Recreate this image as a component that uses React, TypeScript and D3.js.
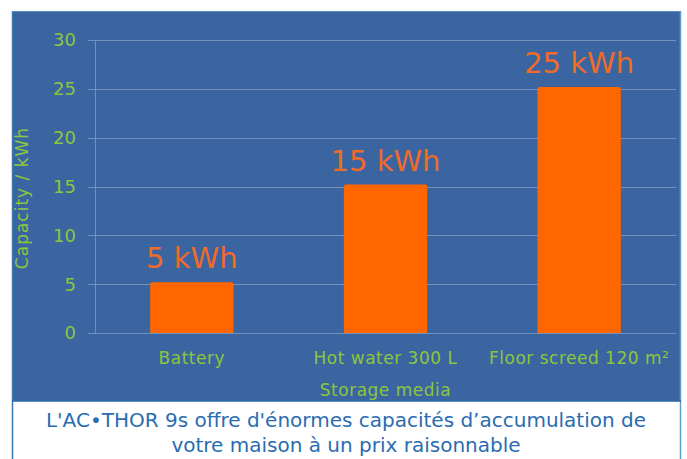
import { useEffect, useRef } from 'react'
import * as d3 from 'd3'

const categories = ['Battery', 'Hot water 300 L', 'Floor screed 120 m²']
const capacities = [5.2, 15.2, 25.2]
const barLabels = ['5 kWh', '15 kWh', '25 kWh']
const yTicks = [0, 5, 10, 15, 20, 25, 30]
const captionLines = [
  "L'AC•THOR 9s offre d'énormes capacités d’accumulation de",
  'votre maison à un prix raisonnable',
]

const W = 687
const H = 459
const margin = { top: 40, right: 11, bottom: 126, left: 95 }
const FONT = '"DejaVu Sans", sans-serif'
const GREEN = '#8cc63e'

const App = () => {
  const ref = useRef<SVGSVGElement>(null)

  useEffect(() => {
    if (!ref.current) return
    const svg = d3.select(ref.current)
    svg.selectAll('*').remove()

    const innerW = W - margin.left - margin.right
    const innerH = H - margin.top - margin.bottom

    // background panel + caption box
    svg.append('rect').attr('width', W).attr('height', H).attr('fill', '#fff')
    svg.append('rect')
      .attr('x', 12).attr('y', 11).attr('width', 669).attr('height', 390)
      .attr('fill', '#3b65a1')
    svg.append('line')
      .attr('x1', 12.5).attr('x2', 12.5).attr('y1', 11).attr('y2', H)
      .attr('stroke', '#3a78b8').attr('stroke-width', 1.5)
    svg.append('line')
      .attr('x1', 680.5).attr('x2', 680.5).attr('y1', 11).attr('y2', H)
      .attr('stroke', '#5b9fd3').attr('stroke-width', 1.5)
    svg.append('line')
      .attr('x1', 12).attr('x2', 681).attr('y1', 11.5).attr('y2', 11.5)
      .attr('stroke', '#5a8cc6').attr('stroke-width', 1)
    svg.append('line')
      .attr('x1', 12).attr('x2', 681).attr('y1', 401).attr('y2', 401)
      .attr('stroke', '#2f66a8').attr('stroke-width', 1.5)

    const x = d3.scaleBand<string>()
      .domain(categories)
      .range([0, innerW])
      .paddingInner(0.57)
      .paddingOuter(0.285)

    const y = d3.scaleLinear().domain([0, 30]).range([innerH, 0])

    const g = svg.append('g').attr('transform', `translate(${margin.left},${margin.top})`)

    // gridlines
    g.append('g')
      .selectAll('line')
      .data(yTicks)
      .join('line')
        .attr('x1', -7)
        .attr('x2', innerW)
        .attr('y1', d => Math.round(y(d)) + 0.5)
        .attr('y2', d => Math.round(y(d)) + 0.5)
        .attr('stroke', '#7391bd')
        .attr('stroke-width', 1)

    // y axis line
    g.append('line')
      .attr('x1', 0.5).attr('x2', 0.5).attr('y1', 0).attr('y2', innerH)
      .attr('stroke', '#7391bd')

    // y tick labels
    g.append('g')
      .selectAll('text')
      .data(yTicks)
      .join('text')
        .attr('x', -19)
        .attr('y', d => y(d))
        .attr('dy', '0.36em')
        .attr('text-anchor', 'end')
        .attr('font-family', FONT)
        .attr('font-size', 18)
        .attr('fill', GREEN)
        .text(d => d)

    // bars
    g.append('g')
      .selectAll('path')
      .data(capacities)
      .join('path')
        .attr('fill', '#ff6600')
        .attr('d', (d, i) => {
          const x0 = x(categories[i])!
          const w = x.bandwidth()
          const top = y(d)
          const r = 2
          return `M${x0},${innerH}V${top + r}Q${x0},${top} ${x0 + r},${top}H${x0 + w - r}Q${x0 + w},${top} ${x0 + w},${top + r}V${innerH}Z`
        })

    // bar value labels
    g.append('g')
      .selectAll('text')
      .data(capacities)
      .join('text')
        .attr('x', (_, i) => x(categories[i])! + x.bandwidth() / 2)
        .attr('y', d => y(d) - 14)
        .attr('text-anchor', 'middle')
        .attr('font-family', FONT)
        .attr('font-size', 29)
        .attr('fill', '#f06a28')
        .text((_, i) => barLabels[i])

    // x tick labels
    g.append('g')
      .selectAll('text')
      .data(categories)
      .join('text')
        .attr('x', d => x(d)! + x.bandwidth() / 2)
        .attr('y', innerH + 31)
        .attr('text-anchor', 'middle')
        .attr('font-family', FONT)
        .attr('font-size', 17)
        .attr('letter-spacing', 0.5)
        .attr('fill', GREEN)
        .text(d => d)

    // axis titles
    g.append('text')
      .attr('x', innerW / 2)
      .attr('y', innerH + 63)
      .attr('text-anchor', 'middle')
      .attr('font-family', FONT)
      .attr('font-size', 17)
      .attr('letter-spacing', 0.5)
      .attr('fill', GREEN)
      .text('Storage media')

    svg.append('text')
      .attr('transform', `translate(28,${198}) rotate(-90)`)
      .attr('text-anchor', 'middle')
      .attr('font-family', FONT)
      .attr('font-size', 17)
      .attr('letter-spacing', 1)
      .attr('fill', GREEN)
      .text('Capacity / kWh')

    // caption
    svg.append('g')
      .selectAll('text')
      .data(captionLines)
      .join('text')
        .attr('x', 346)
        .attr('y', (_, i) => 427 + i * 25)
        .attr('text-anchor', 'middle')
        .attr('font-family', FONT)
        .attr('font-size', 20)
        .attr('fill', '#2a6cb0')
        .text(d => d)
  }, [])

  return (
    <svg
      ref={ref}
      width={W}
      height={H}
      style={{ position: 'absolute', left: 0, top: 0, display: 'block' }}
    />
  )
}

export default App
